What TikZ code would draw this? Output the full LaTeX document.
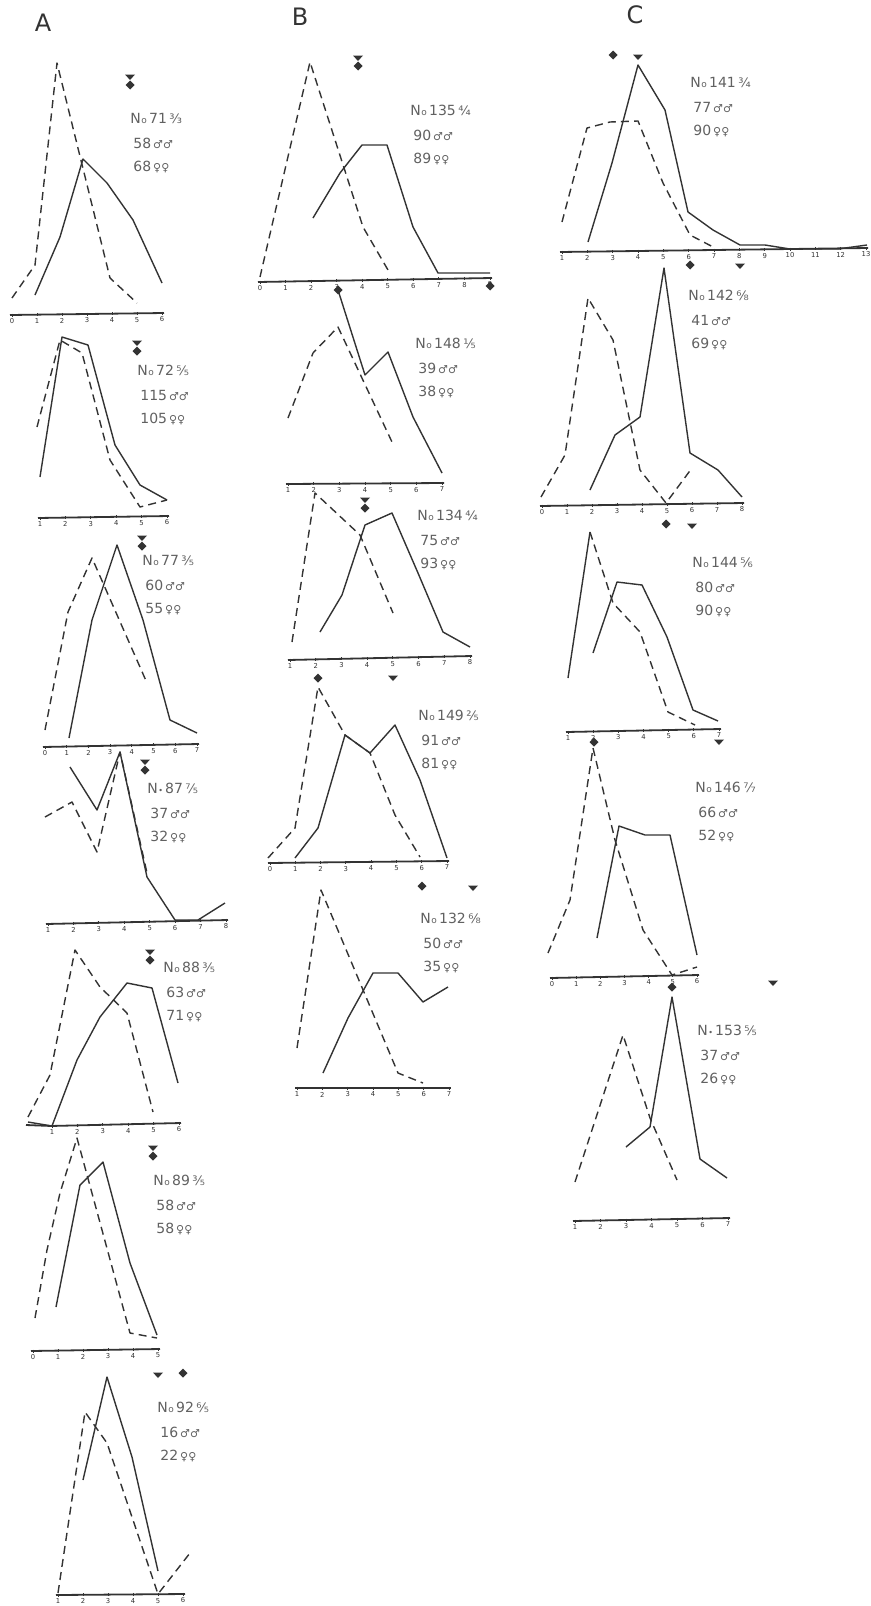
\documentclass[tikz,border=0pt]{standalone}
\usepackage{fontspec}
\setmainfont{DejaVu Sans}
\definecolor{ink}{gray}{0.2}
\definecolor{txt}{gray}{0.38}
\tikzset{
  sol/.style={line width=0.7pt, draw=ink, line join=round},
  dsh/.style={sol, dash pattern=on 4pt off 2.6pt},
  axl/.style={line width=0.9pt, draw=ink},
  tlab/.style={font=\fontsize{3.4}{4}\selectfont, text=ink, inner sep=0pt},
  info/.style={font=\fontsize{7}{8}\selectfont, text=txt, anchor=west, inner sep=0pt},
  mk/.style={fill=ink},
  hdr/.style={font=\fontsize{12}{14}\selectfont, text=ink, inner sep=0pt}
}
\newcommand\axisln[7]{%
  \draw[axl] (#2-2,#3) -- (#4+2,#5);
  \foreach \i in {#6,...,#7}{%
    \pgfmathsetmacro\axX{#2+(\i-#6)*(#4-#2)/(#7-#6)}%
    \pgfmathsetmacro\axY{#3+(\i-#6)*(#5-#3)/(#7-#6)}%
    \draw[line width=0.4pt,ink] (\axX,\axY-1.5) -- (\axX,\axY+1.5);
    \node[tlab] (#1-\i) at (\axX,\axY+6.5) {\i};
  }%
}
\newcommand\mdia[2]{\fill[mk] (#1,#2-4.5) -- (#1+4.5,#2) -- (#1,#2+4.5) -- (#1-4.5,#2) -- cycle;}
\newcommand\mtri[2]{\fill[mk] (#1-5,#2-2.5) -- (#1+5,#2-2.5) -- (#1,#2+3) -- cycle;}
\newcommand\mboth[2]{\mtri{#1}{#2-5}\mdia{#1}{#2+3}}
\newcommand\no{N\kern0.2pt{\fontsize{4.5}{5}\selectfont o}\kern1.2pt}
\newcommand\nb{N\kern0.3pt{\fontsize{4}{5}\selectfont •}\kern1pt}
\newcommand\sym[1]{{\fontsize{5.5}{6}\selectfont #1}}
\newcommand\info[7]{%
  \node[info] (#1a) at (#2,#3) {#4\kern1.2pt{\fontsize{6.5}{7}\selectfont #5}};
  \node[info] (#1b) at (#2+3,#3+25) {#6\kern1pt\sym{♂♂}};
  \node[info] (#1c) at (#2+3,#3+49) {#7\kern1pt\sym{♀♀}};
}
\begin{document}
\begin{tikzpicture}[x=0.5pt,y=-0.5pt]
\useasboundingbox[fill=white] (0,0) rectangle (871,1606);
% headers
\node[hdr] (hA) at (43,23) {A};
\node[hdr] (hB) at (300,17) {B};
\node[hdr] (hC) at (635,15) {C};

% ---------- Column A ----------
% A1 No 71
\axisln{a1}{12}{315}{162}{313}{0}{6}
\draw[dsh] (12,298) -- (35,265) -- (57,63) -- (110,278) -- (137,303);
\draw[sol] (35,295) -- (60,237) -- (83,159) -- (107,183) -- (133,220) -- (162,283);
\mboth{130}{82}
\info{i1}{130}{118}{\no71}{³⁄₃}{58}{68}

% A2 No 72
\axisln{a2}{40}{518}{167}{516}{1}{6}
\draw[dsh] (37,427) -- (60,340) -- (82,353) -- (110,460) -- (140,507) -- (167,500);
\draw[sol] (40,477) -- (62,337) -- (88,345) -- (115,445) -- (140,485) -- (167,500);
\mboth{137}{348}
\info{i2}{137}{370}{\no72}{⁵⁄₅}{115}{105}

% A3 No 77
\axisln{a3}{45}{747}{197}{744}{0}{7}
\draw[dsh] (45,730) -- (68,612) -- (92,558) -- (147,683);
\draw[sol] (69,738) -- (92,620) -- (117,545) -- (143,620) -- (170,720) -- (197,733);
\mboth{142}{543}
\info{i3}{142}{560}{\no77}{³⁄₅}{60}{55}

% A4 No 87
\axisln{a4}{48}{924}{226}{920}{1}{8}
\draw[sol] (70,767) -- (97,810) -- (120,752) -- (147,877) -- (175,920) -- (198,920) -- (225,903);
\draw[dsh] (45,817) -- (72,802) -- (97,852) -- (120,752) -- (147,873);
\mboth{145}{767}
\info{i4}{147}{788}{\nb87}{⁷⁄₅}{37}{32}

% A5 No 88
\draw[axl] (26,1125) -- (52,1126);
\axisln{a5}{52}{1126}{179}{1123}{1}{6}
\draw[dsh] (28,1117) -- (50,1075) -- (75,950) -- (100,987) -- (127,1013) -- (153,1112);
\draw[sol] (28,1122) -- (52,1126) -- (77,1060) -- (100,1017) -- (127,983) -- (152,988) -- (178,1083);
\mboth{150}{957}
\info{i5}{163}{967}{\no88}{³⁄₅}{63}{71}

% A6 No 89
\axisln{a6}{33}{1351}{158}{1349}{0}{5}
\draw[dsh] (35,1318) -- (47,1250) -- (60,1193) -- (77,1138) -- (130,1333) -- (157,1338);
\draw[sol] (56,1307) -- (80,1185) -- (103,1162) -- (130,1263) -- (157,1335);
\mboth{153}{1153}
\info{i6}{153}{1180}{\no89}{³⁄₅}{58}{58}

% A7 No 92
\axisln{a7}{58}{1595}{183}{1594}{1}{6}
\draw[dsh] (58,1593) -- (85,1412) -- (107,1443) -- (158,1594) -- (190,1553);
\draw[sol] (83,1480) -- (107,1377) -- (132,1457) -- (158,1571);
\mtri{158}{1375}
\mdia{183}{1373}
\info{i7}{157}{1407}{\no92}{⁶⁄₅}{16}{22}

% ---------- Column B ----------
% B1 No 135
\axisln{b1}{260}{282}{490}{278}{0}{9}
\draw[dsh] (260,277) -- (310,62) -- (363,227) -- (388,270);
\draw[sol] (313,218) -- (340,173) -- (362,145) -- (387,145) -- (413,227) -- (438,273) -- (490,273);
\mboth{358}{63}
\mdia{490}{286}
\info{j1}{410}{110}{\no135}{⁴⁄₄}{90}{89}

% B2 No 148
\axisln{b2}{288}{484}{442}{483}{1}{7}
\draw[dsh] (288,418) -- (313,353) -- (338,327) -- (392,442);
\draw[sol] (338,290) -- (365,375) -- (388,352) -- (413,417) -- (442,473);
\mdia{338}{290}
\info{j2}{415}{343}{\no148}{¹⁄₅}{39}{38}

% B3 No 134
\axisln{b3}{290}{660}{470}{656}{1}{8}
\draw[dsh] (292,642) -- (315,493) -- (360,535) -- (393,613);
\draw[sol] (320,632) -- (342,595) -- (365,525) -- (392,513) -- (418,573) -- (443,632) -- (470,647);
\mboth{365}{505}
\info{j3}{417}{515}{\no134}{⁴⁄₄}{75}{93}

% B4 No 149
\axisln{b4}{270}{863}{447}{861}{0}{7}
\draw[dsh] (268,858) -- (295,828) -- (318,687) -- (345,735) -- (370,753) -- (395,815) -- (420,857);
\draw[sol] (295,858) -- (318,828) -- (345,735) -- (370,753) -- (395,725) -- (420,780) -- (447,858);
\mdia{318}{678}
\mtri{393}{678}
\info{j4}{418}{715}{\no149}{²⁄₅}{91}{81}

% B5 No 132
\axisln{b5}{297}{1088}{449}{1088}{1}{7}
\draw[dsh] (297,1048) -- (321,890) -- (398,1073) -- (423,1083);
\draw[sol] (323,1073) -- (348,1018) -- (373,973) -- (398,973) -- (423,1002) -- (448,987);
\mdia{422}{886}
\mtri{473}{888}
\info{j5}{420}{918}{\no132}{⁶⁄₈}{50}{35}

% ---------- Column C ----------
% C1 No 141
\axisln{c1}{562}{252}{866}{248}{1}{13}
\draw[dsh] (562,222) -- (587,128) -- (610,122) -- (638,121) -- (663,183) -- (690,235) -- (715,248);
\draw[sol] (588,242) -- (612,163) -- (638,65) -- (665,110) -- (688,212) -- (713,230) -- (740,245) -- (765,245) -- (790,249) -- (838,249) -- (867,245);
\mdia{613}{55}
\mtri{638}{57}
\mdia{690}{265}
\mtri{740}{266}
\info{k1}{690}{82}{\no141}{³⁄₄}{77}{90}

% C2 No 142
\axisln{c2}{542}{506}{742}{503}{0}{8}
\draw[dsh] (541,497) -- (565,455) -- (588,298) -- (613,340) -- (640,470) -- (666,503) -- (692,468);
\draw[sol] (590,490) -- (615,435) -- (640,417) -- (664,268) -- (690,453) -- (718,470) -- (742,497);
\mdia{666}{524}
\mtri{692}{526}
\info{k2}{688}{295}{\no142}{⁶⁄₈}{41}{69}

% C3 No 144
\axisln{c3}{568}{732}{719}{729}{1}{7}
\draw[sol] (568,678) -- (590,532);
\draw[dsh] (590,532) -- (613,603) -- (640,632) -- (668,712) -- (695,725);
\draw[sol] (593,653) -- (617,582) -- (642,585) -- (667,637) -- (693,710) -- (718,721);
\mtri{719}{742}
\info{k3}{692}{562}{\no144}{⁵⁄₆}{80}{90}

% C4 No 146
\axisln{c4}{552}{978}{697}{975}{0}{6}
\draw[dsh] (548,953) -- (570,900) -- (593,748) -- (615,840) -- (643,930) -- (672,975) -- (697,967);
\draw[sol] (597,938) -- (619,826) -- (645,835) -- (670,835) -- (697,955);
\mdia{594}{742}
\mdia{672}{987}
\mtri{773}{983}
\info{k4}{695}{787}{\no146}{⁷⁄₇}{66}{52}

% C5 No 153
\axisln{c5}{575}{1221}{728}{1218}{1}{7}
\draw[dsh] (575,1182) -- (623,1035) -- (650,1118) -- (677,1180);
\draw[sol] (626,1147) -- (650,1127) -- (672,997) -- (700,1159) -- (727,1178);
\info{k5}{697}{1030}{\nb153}{⁵⁄₅}{37}{26}
\end{tikzpicture}
\end{document}
